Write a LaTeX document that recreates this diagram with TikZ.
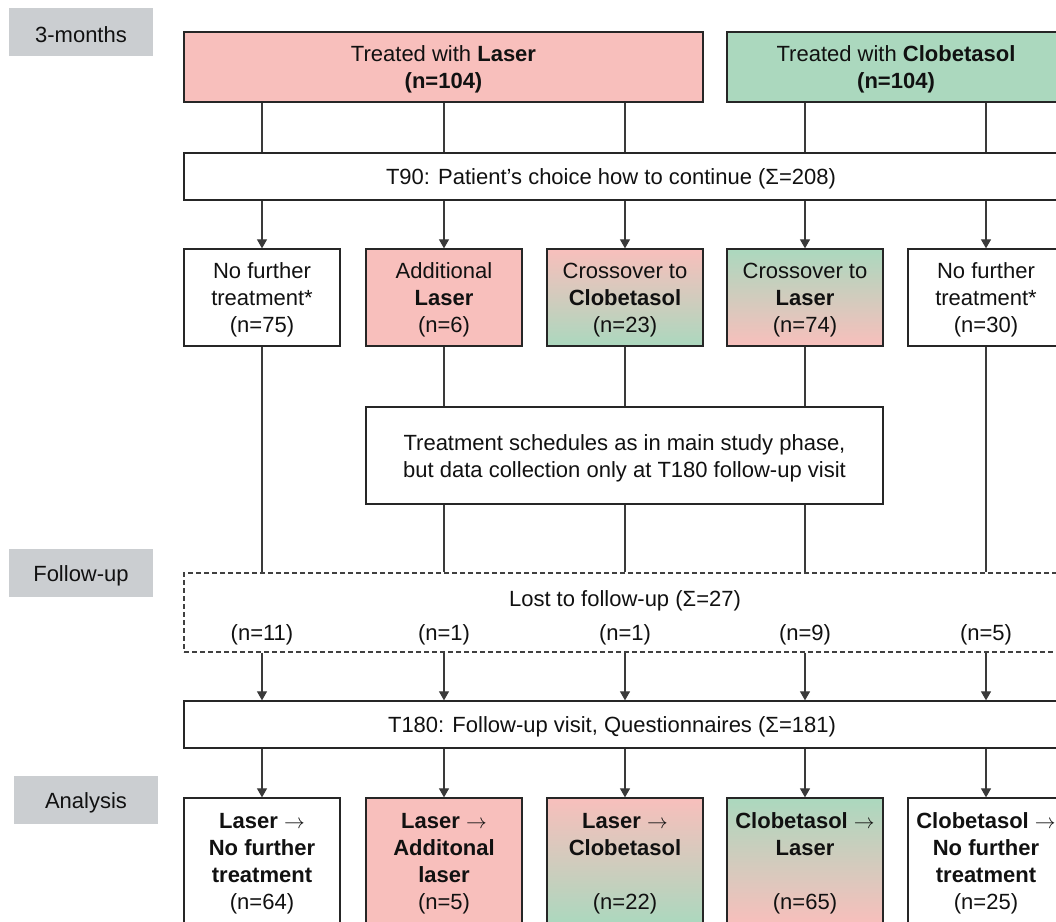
\documentclass[tikz,border=0pt]{standalone}
\usepackage{fontspec}
\setmainfont{Liberation Sans}
\usetikzlibrary{arrows.meta}
\definecolor{pinkc}{HTML}{F8BFBC}
\definecolor{greenc}{HTML}{ABD8BE}
\definecolor{greyc}{HTML}{CBCED1}
\definecolor{linec}{HTML}{3A3A3A}
\definecolor{textc}{HTML}{111111}
\newcommand{\ts}{\rule{0pt}{21.5pt}}
\begin{document}
\begin{tikzpicture}[x=1pt,y=-1pt,
  txt/.style={text=textc, font=\fontsize{22}{27}\selectfont, align=center, inner sep=0pt},
  box/.style={txt, draw=black!85, line width=1.3pt, fill=white},
  lab/.style={txt, fill=greyc, minimum width=144pt, minimum height=48pt},
  rowtwo/.style={box, minimum width=156pt, minimum height=97pt},
  rowfour/.style={box, minimum width=156pt, minimum height=126pt},
  pinkbox/.style={fill=pinkc},
  greenbox/.style={fill=greenc},
  pinkgreen/.style={top color=pinkc, bottom color=greenc},
  greenpink/.style={top color=greenc, bottom color=pinkc},
  conn/.style={draw=linec, line width=1.1pt},
  arr/.style={conn, -{Triangle[width=10pt,length=9pt]}},
  lostbox/.style={txt, draw=black!75, line width=1.1pt, dash pattern=on 5pt off 3pt}
]
\fill[white] (0,0) rectangle (1056,921);
\clip (0,0) rectangle (1056,921);

% column coordinates
\coordinate (c1) at (262,0);
\coordinate (c2) at (444,0);
\coordinate (c3) at (625,0);
\coordinate (c4) at (805,0);
\coordinate (c5) at (986,0);

% phase labels
\node[lab] (m3) at (81,32) {\ts 3-months};
\node[lab] (fu) at (81,573) {\ts Follow-up};
\node[lab] (an) at (86,800) {\ts Analysis};

% top boxes
\node[box, pinkbox, minimum width=519pt, minimum height=70pt] (laser) at (443.5,67) {\ts Treated with \textbf{Laser}\\\textbf{(n=104)}};
\node[box, greenbox, minimum width=338pt, minimum height=70pt] (clob) at (896,67) {\ts Treated with \textbf{Clobetasol}\\\textbf{(n=104)}};

% T90
\node[box, minimum width=881pt, minimum height=47pt] (t90) at (624.5,176.5) {};
\node[txt] (t90t) at (611,176.5) {\ts T90: Patient’s choice how to continue (Σ=208)};

% row 2
\node[rowtwo] (r21) at (262,297.5) {\ts No further\\treatment*\\(n=75)};
\node[rowtwo, pinkbox] (r22) at (444,297.5) {\ts Additional\\\textbf{Laser}\\(n=6)};
\node[rowtwo, pinkgreen] (r23) at (625,297.5) {\ts Crossover to\\\textbf{Clobetasol}\\(n=23)};
\node[rowtwo, greenpink] (r24) at (805,297.5) {\ts Crossover to\\\textbf{Laser}\\(n=74)};
\node[rowtwo] (r25) at (986,297.5) {\ts No further\\treatment*\\(n=30)};

% schedules
\node[box, minimum width=517pt, minimum height=97pt] (sched) at (624.5,455.5) {\ts Treatment schedules as in main study phase,\\but data collection only at T180 follow-up visit};

% lost to follow-up
\node[lostbox, minimum width=881pt, minimum height=79pt] (lost) at (624.5,612.5) {};
\node[txt] (lostt) at (625,598) {\ts Lost to follow-up (Σ=27)};
\node[txt] (l1) at (262,632) {\ts (n=11)};
\node[txt] (l2) at (444,632) {\ts (n=1)};
\node[txt] (l3) at (625,632) {\ts (n=1)};
\node[txt] (l4) at (805,632) {\ts (n=9)};
\node[txt] (l5) at (986,632) {\ts (n=5)};

% T180
\node[box, minimum width=881pt, minimum height=47pt] (t180) at (624.5,724.5) {};
\node[txt] (t180t) at (612,724.5) {\ts T180: Follow-up visit, Questionnaires (Σ=181)};

% row 4
\node[rowfour] (r41) at (262,861) {\ts\textbf{Laser $\rightarrow$}\\\textbf{No further}\\\textbf{treatment}\\(n=64)};
\node[rowfour, pinkbox] (r42) at (444,861) {\ts\textbf{Laser $\rightarrow$}\\\textbf{Additonal}\\\textbf{laser}\\(n=5)};
\node[rowfour, pinkgreen] (r43) at (625,861) {\ts\textbf{Laser $\rightarrow$}\\\textbf{Clobetasol}\\\mbox{}\\(n=22)};
\node[rowfour, greenpink] (r44) at (805,861) {\ts\textbf{Clobetasol $\rightarrow$}\\\textbf{Laser}\\\mbox{}\\(n=65)};
\node[rowfour] (r45) at (986,861) {\ts\textbf{Clobetasol $\rightarrow$}\\\textbf{No further}\\\textbf{treatment}\\(n=25)};

% connectors: top boxes to T90
\foreach \c in {c1,c2,c3} \draw[conn] (laser.south -| \c) -- (t90.north -| \c);
\foreach \c in {c4,c5} \draw[conn] (clob.south -| \c) -- (t90.north -| \c);

% T90 to row 2
\foreach \c/\r in {c1/r21,c2/r22,c3/r23,c4/r24,c5/r25} \draw[arr] (t90.south -| \c) -- (\r.north);

% row 2 to schedules / lost
\draw[conn] (r21.south) -- (lost.north -| c1);
\draw[conn] (r25.south) -- (lost.north -| c5);
\foreach \c/\r in {c2/r22,c3/r23,c4/r24} {
  \draw[conn] (\r.south) -- (sched.north -| \c);
  \draw[conn] (sched.south -| \c) -- (lost.north -| \c);
}

% lost to T180
\foreach \c in {c1,c2,c3,c4,c5} \draw[arr] (lost.south -| \c) -- (t180.north -| \c);

% T180 to row 4
\foreach \c/\r in {c1/r41,c2/r42,c3/r43,c4/r44,c5/r45} \draw[arr] (t180.south -| \c) -- (\r.north);
\end{tikzpicture}
\end{document}
